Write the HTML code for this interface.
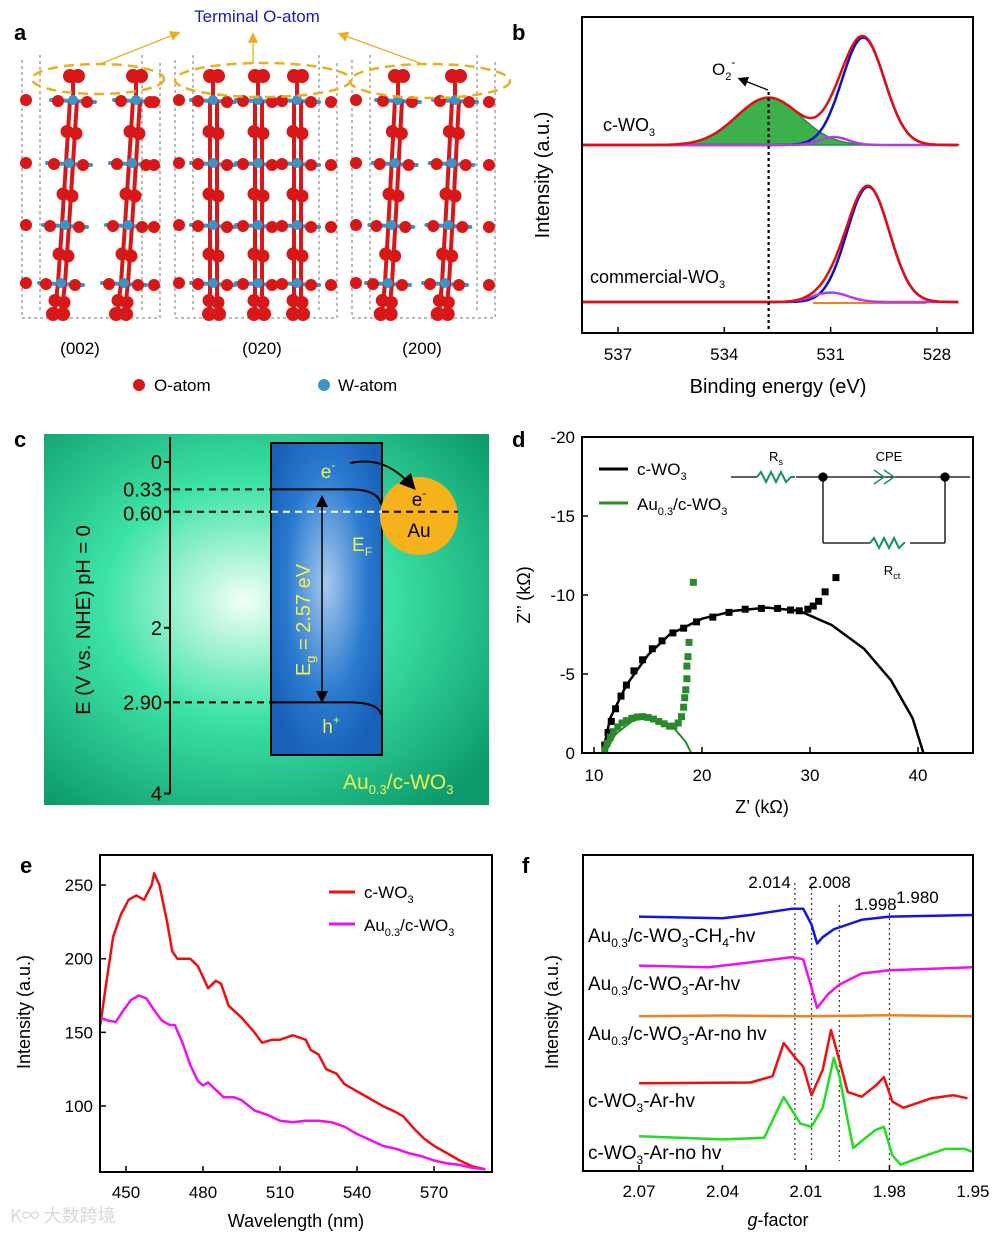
<!DOCTYPE html>
<html><head><meta charset="utf-8"><style>
body{margin:0;background:#fff}
svg{display:block;font-family:"Liberation Sans",Arial,sans-serif}
</style></head><body>
<svg id="fig" width="1000" height="1233" viewBox="0 0 1000 1233" xmlns="http://www.w3.org/2000/svg">
<defs>
<radialGradient id="bgc" cx="0.45" cy="0.45" r="0.7"><stop offset="0" stop-color="#f2fff8"/><stop offset="0.45" stop-color="#3de3a6"/><stop offset="1" stop-color="#0d9a6c"/></radialGradient>
<radialGradient id="boxc" cx="0.5" cy="0.45" r="0.6"><stop offset="0" stop-color="#a8c8ec"/><stop offset="0.6" stop-color="#2a7bd0"/><stop offset="1" stop-color="#1860b8"/></radialGradient>
<marker id="arr" markerWidth="8" markerHeight="8" refX="6" refY="4" orient="auto"><path d="M0,0 L8,4 L0,8 z" fill="#000"/></marker>
<marker id="arrs" markerWidth="8" markerHeight="8" refX="2" refY="4" orient="auto-start-reverse"><path d="M0,0 L8,4 L0,8 z" fill="#000"/></marker>
<marker id="arry" markerWidth="8" markerHeight="8" refX="6" refY="4" orient="auto"><path d="M0,0 L8,4 L0,8 z" fill="#e8b020"/></marker>
</defs>

<!-- Panel a -->
<g>
<text x="14" y="40" font-size="22" font-weight="bold">a</text>
<text x="257" y="22" font-size="17" fill="#1a1ab8" text-anchor="middle">Terminal O-atom</text>
<g stroke="#e8b020" stroke-width="1.3" fill="none">
<line x1="100" y1="64" x2="178" y2="33" marker-end="url(#arry)"/>
<line x1="253" y1="64" x2="253" y2="35" marker-end="url(#arry)"/>
<line x1="425" y1="65" x2="340" y2="34" marker-end="url(#arry)"/>
</g>
<g id="structs"></g>
<g stroke="#e8b020" stroke-width="2.5" fill="none" stroke-dasharray="10,6">
<ellipse cx="98" cy="79" rx="66" ry="15"/><ellipse cx="263" cy="80" rx="88" ry="17"/><ellipse cx="430" cy="81" rx="80" ry="17"/>
</g>
<text x="80" y="354" font-size="17" text-anchor="middle">(002)</text>
<text x="262" y="354" font-size="17" text-anchor="middle">(020)</text>
<text x="422" y="354" font-size="17" text-anchor="middle">(200)</text>
<circle cx="139" cy="385" r="6" fill="#d81818"/>
<text x="154" y="391" font-size="17">O-atom</text>
<circle cx="324" cy="385" r="6" fill="#3a94c8"/>
<text x="338" y="391" font-size="17">W-atom</text>
</g>

<!-- Panel b -->
<g>
<text x="512" y="40" font-size="22" font-weight="bold">b</text>
<g id="pb"></g>
<rect x="582" y="17" width="391" height="316" fill="none" stroke="#000" stroke-width="2"/>
<text x="549" y="175" font-size="20" text-anchor="middle" transform="rotate(-90 549 175)">Intensity (a.u.)</text>
<text x="778" y="393" font-size="20" text-anchor="middle">Binding energy (eV)</text>
<text x="603" y="131" font-size="18">c-WO<tspan font-size="11" dy="5">3</tspan></text>
<text x="590" y="283" font-size="18">commercial-WO<tspan font-size="11" dy="5">3</tspan></text>
<text x="712" y="75" font-size="17">O<tspan font-size="11" dy="5">2</tspan><tspan font-size="12" dy="-14">-</tspan></text>
<line x1="768" y1="90" x2="740" y2="79" stroke="#000" stroke-width="1.3" marker-end="url(#arr)"/>
</g>

<!-- Panel c -->
<g>
<text x="14" y="447" font-size="22" font-weight="bold">c</text>
<rect x="44" y="434" width="445" height="371" fill="url(#bgc)"/>
<rect x="271" y="443" width="111" height="312" fill="url(#boxc)" stroke="#000" stroke-width="2"/>
<circle cx="419" cy="516" r="39" fill="#f5b21a"/>
<g id="pc"></g>
<text x="90" y="620" font-size="20" text-anchor="middle" transform="rotate(-90 90 620)">E (V vs. NHE) pH = 0</text>
<text x="328" y="478" font-size="19" fill="#f0f050" text-anchor="middle">e<tspan font-size="12" dy="-9">-</tspan></text>
<text x="419" y="506" font-size="19" fill="#000" text-anchor="middle">e<tspan font-size="12" dy="-9">-</tspan></text>
<text x="419" y="537" font-size="19" text-anchor="middle">Au</text>
<text x="352" y="551" font-size="19" fill="#f0f050">E<tspan font-size="12" dy="5">F</tspan></text>
<text x="310" y="620" font-size="20" fill="#f0f050" text-anchor="middle" transform="rotate(-90 310 620)">E<tspan font-size="13" dy="5">g</tspan><tspan dy="-5"> = 2.57 eV</tspan></text>
<text x="331" y="733" font-size="19" fill="#f0f050" text-anchor="middle">h<tspan font-size="12" dy="-9">+</tspan></text>
<text x="343" y="789" font-size="21" fill="#f0f050">Au<tspan font-size="13" dy="5">0.3</tspan><tspan dy="-5">/c-WO</tspan><tspan font-size="13" dy="5">3</tspan></text>
<path d="M350,463 C375,458 393,465 413,487" stroke="#000" stroke-width="2" fill="none" marker-end="url(#arr)"/>
<line x1="322" y1="504" x2="322" y2="700" stroke="#000" stroke-width="1.5" marker-start="url(#arrs)" marker-end="url(#arr)"/>
</g>

<!-- Panel d -->
<g>
<text x="512" y="447" font-size="22" font-weight="bold">d</text>
<g id="pd"></g>
<rect x="582" y="437" width="391" height="316" fill="none" stroke="#000" stroke-width="2"/>
<text x="530" y="595" font-size="18" text-anchor="middle" transform="rotate(-90 530 595)">Z’’ (kΩ)</text>
<text x="762" y="813" font-size="18" text-anchor="middle">Z’ (kΩ)</text>
<line x1="599" y1="469" x2="628" y2="469" stroke="#000" stroke-width="3"/>
<text x="637" y="475" font-size="17">c-WO<tspan font-size="11" dy="5">3</tspan></text>
<line x1="599" y1="503" x2="628" y2="503" stroke="#2a8a2a" stroke-width="3"/>
<text x="637" y="510" font-size="17">Au<tspan font-size="11" dy="5">0.3</tspan><tspan dy="-5">/c-WO</tspan><tspan font-size="11" dy="5">3</tspan></text>
<g stroke="#000" stroke-width="1.3" fill="none">
<line x1="731" y1="477" x2="757" y2="477"/><line x1="796" y1="477" x2="970" y2="477"/>
<path d="M757,477 l4,-5 l5,10 l5,-10 l5,10 l5,-10 l5,10 l5,-5 l4,0" stroke="#1a9060" stroke-width="2"/>
<line x1="823" y1="477" x2="823" y2="543"/><line x1="945" y1="477" x2="945" y2="543"/>
<line x1="823" y1="543" x2="870" y2="543"/><line x1="910" y1="543" x2="945" y2="543"/>
<path d="M870,543 l4,-5 l5,10 l5,-10 l5,10 l5,-10 l5,10 l5,-5 l1,0" stroke="#1a9060" stroke-width="2"/>
<path d="M874,470 l10,7 l-10,7 M884,470 l10,7 l-10,7" stroke="#1a9060" stroke-width="1.5"/>
<circle cx="823" cy="477" r="4" fill="#000"/><circle cx="945" cy="477" r="4" fill="#000"/>
</g>
<text x="776" y="461" font-size="13" text-anchor="middle">R<tspan font-size="9" dy="4">s</tspan></text>
<text x="889" y="461" font-size="13" text-anchor="middle">CPE</text>
<text x="892" y="575" font-size="13" text-anchor="middle">R<tspan font-size="9" dy="4">ct</tspan></text>
</g>

<!-- Panel e -->
<g>
<text x="20" y="873" font-size="22" font-weight="bold">e</text>
<g id="pe"></g>
<rect x="100" y="855" width="392" height="317" fill="none" stroke="#000" stroke-width="2"/>
<text x="30" y="1012" font-size="18" text-anchor="middle" transform="rotate(-90 30 1012)">Intensity (a.u.)</text>
<text x="296" y="1227" font-size="18" text-anchor="middle">Wavelength (nm)</text>
<line x1="329" y1="892" x2="355" y2="892" stroke="#ee1010" stroke-width="3"/>
<text x="364" y="898" font-size="17">c-WO<tspan font-size="11" dy="5">3</tspan></text>
<line x1="329" y1="924" x2="355" y2="924" stroke="#ee10ee" stroke-width="3"/>
<text x="364" y="931" font-size="17">Au<tspan font-size="11" dy="5">0.3</tspan><tspan dy="-5">/c-WO</tspan><tspan font-size="11" dy="5">3</tspan></text>
<text x="10" y="1222" font-size="18" fill="#d8d8d8" font-family="'Noto Sans CJK SC',sans-serif">K∞ 大数跨境</text>
</g>

<!-- Panel f -->
<g>
<text x="522" y="873" font-size="22" font-weight="bold">f</text>
<g id="pf"></g>
<rect x="583" y="855" width="390" height="316" fill="none" stroke="#000" stroke-width="2"/>
<text x="558" y="1012" font-size="18" text-anchor="middle" transform="rotate(-90 558 1012)">Intensity (a.u.)</text>
<text x="778" y="1226" font-size="18" text-anchor="middle"><tspan font-style="italic">g</tspan>-factor</text>
<text x="588" y="942" font-size="19">Au<tspan font-size="12" dy="5">0.3</tspan><tspan dy="-5">/c-WO</tspan><tspan font-size="12" dy="5">3</tspan><tspan dy="-5">-CH</tspan><tspan font-size="12" dy="5">4</tspan><tspan dy="-5">-hv</tspan></text>
<text x="588" y="990" font-size="19">Au<tspan font-size="12" dy="5">0.3</tspan><tspan dy="-5">/c-WO</tspan><tspan font-size="12" dy="5">3</tspan><tspan dy="-5">-Ar-hv</tspan></text>
<text x="588" y="1040" font-size="19">Au<tspan font-size="12" dy="5">0.3</tspan><tspan dy="-5">/c-WO</tspan><tspan font-size="12" dy="5">3</tspan><tspan dy="-5">-Ar-no hv</tspan></text>
<text x="588" y="1107" font-size="19">c-WO<tspan font-size="12" dy="5">3</tspan><tspan dy="-5">-Ar-hv</tspan></text>
<text x="588" y="1159" font-size="19">c-WO<tspan font-size="12" dy="5">3</tspan><tspan dy="-5">-Ar-no hv</tspan></text>
</g>
</svg>
<script>
// ---------- Panel b data (XPS O1s peak parameters: center eV, amplitude, sigma) ----------
const bTicks=[537,534,531,528];
const bCWO3Base=59.5;
const bCWO3Centers=[530.08,532.75,530.9];
const bCWO3Amps=[34,15,2.5];
const bCWO3Sigmas=[0.6,0.9,0.4];
const bComBase=9.8;
const bComCenters=[529.94,531.0];
const bComAmps=[36.5,3];
const bComSigmas=[0.6,0.5];
const bO2Line=532.75;
// ---------- Panel c data ----------
const cTicks=[0,0.33,0.60,2,2.90,4];
const cCB=0.33, cEF=0.60, cVB=2.90;
// ---------- Panel d data ----------
const dXTicks=[10,20,30,40];
const dYTicks=[0,-5,-10,-15,-20];
const dBlackPtsX=[11,11.3,11.6,12,12.5,13,13.7,14.5,15.4,16.3,17.3,18.3,19.5,21,22.5,24,25.5,27,28.2,29,29.8,30.3,30.8,31.4,32.4];
const dBlackPtsY=[-0.5,-1.3,-2,-2.8,-3.6,-4.3,-5.2,-5.9,-6.6,-7.1,-7.6,-7.9,-8.3,-8.6,-8.9,-9.1,-9.15,-9.15,-9.05,-9.0,-9.1,-9.3,-9.6,-10.2,-11.1];
const dBlackFitX=[10.8,11.5,13,15,17,20,23,26,29,32,35,37.5,39.5,40.5];
const dBlackFitY=[0,-2.2,-4.3,-6.2,-7.5,-8.5,-9.0,-9.2,-9.0,-8.1,-6.6,-4.6,-2.2,0];
const dGreenPtsX=[11,11.2,11.5,11.8,12.2,12.6,13,13.5,14,14.5,15,15.5,16,16.5,17,17.4,17.8,18.1,18.3,18.4,18.5,18.6,18.6,18.7,18.8,19.2];
const dGreenPtsY=[-0.2,-0.6,-1.0,-1.35,-1.65,-1.9,-2.05,-2.2,-2.28,-2.3,-2.25,-2.15,-2.0,-1.85,-1.7,-1.7,-1.9,-2.3,-2.9,-3.5,-4.0,-4.7,-5.5,-6.1,-7.0,-10.8];
const dGreenFitX=[11,12,13.5,14.8,16,17.5,18.5,19];
const dGreenFitY=[0,-1.2,-2.0,-2.3,-2.1,-1.5,-0.7,0];
// ---------- Panel e data ----------
const eXTicks=[450,480,510,540,570];
const eYTicks=[100,150,200,250];
const eRedX=[440,442,445,448,451,454,457,460,461,463,466,468,470,475,478,482,485,487,490,495,500,503,507,510,515,520,522,525,528,532,535,540,545,550,555,558,562,566,570,575,580,585,590];
const eRedY=[155,180,215,230,240,243,240,250,258,250,225,205,200,200,195,180,185,183,168,160,150,143,145,145,148,145,138,135,125,122,115,110,105,100,96,93,85,78,73,68,63,59,57];
const eMagX=[440,443,446,449,452,455,458,461,464,467,469,472,475,478,480,482,485,488,492,495,500,505,510,515,520,525,530,535,540,545,550,555,560,565,570,575,580,585,590];
const eMagY=[160,158,157,165,172,175,173,165,158,155,155,143,128,117,114,116,111,106,106,104,97,94,90,89,90,90,89,86,81,77,73,71,68,66,63,61,60,58,57];
// ---------- Panel f data ----------
const fXTicks=[2.07,2.04,2.01,1.98,1.95];
const fMarks=[2.014,2.008,1.998,1.980];
const fBlueX=[2.07,2.04,2.03,2.015,2.011,2.008,2.006,2.004,2.0,1.995,1.99,1.98,1.95];
const fBlueY=[80.5,80,81,83,83,78,72,74,76.5,78,79.5,80.5,81];
const fMagX=[2.07,2.045,2.03,2.015,2.011,2.008,2.006,2.002,1.998,1.99,1.98,1.95];
const fMagY=[65,64.5,66,67.7,67,58,51.6,56,59,62.5,63.5,64.5];
const fOrgX=[2.07,2.04,2.01,1.98,1.95];
const fOrgY=[49,49.2,49,49.3,49];
const fRedX=[2.07,2.03,2.022,2.018,2.014,2.011,2.008,2.004,2.001,1.998,1.995,1.99,1.985,1.982,1.979,1.975,1.965,1.957,1.952];
const fRedY=[27.8,28,30,40.5,36,33,24,32,44.6,35,25,23.5,27,29.7,22,20,23,24,23];
const fGrnX=[2.07,2.04,2.025,2.018,2.012,2.008,2.004,2.0,1.998,1.995,1.993,1.985,1.982,1.979,1.976,1.97,1.96,1.953,1.95];
const fGrnY=[11,10,10.5,23.4,15,14,20,35.8,30,16,7.3,13,14,5,2,4,7,7,6];

const NS='http://www.w3.org/2000/svg';
function mk(parent,tag,attrs){const e=document.createElementNS(NS,tag);for(const k in attrs)e.setAttribute(k,attrs[k]);parent.appendChild(e);return e;}
function txt(parent,x,y,s,size,anchor){const t=mk(parent,'text',{x:x,y:y,'font-size':size,'text-anchor':anchor||'middle'});t.textContent=s;return t;}
function poly(parent,xs,ys,sx,sy,color,w){let d='';for(let i=0;i<xs.length;i++)d+=(i?'L':'M')+sx(xs[i]).toFixed(1)+','+sy(ys[i]).toFixed(1);return mk(parent,'path',{d:d,stroke:color,'stroke-width':w,fill:'none','stroke-linejoin':'round'});}

// ---------- Panel a structures ----------
(function(){
  const g=document.getElementById('structs');
  const structs=[{cols:[67,130],x0:22,x1:160,tilt:-6},{cols:[213,258,297],x0:175,x1:337,tilt:0},{cols:[393,450],x0:352,x1:495,tilt:-5}];
  const rows=[100,163,225,283];
  structs.forEach((s,si)=>{
    const sg=mk(g,'g',{});
    
    
    mk(sg,'path',{d:`M${s.x0},60 L${s.x0},318 L${s.x1},318 L${s.x1},60 M${s.x0+18},55 L${s.x0+18},310 M${s.x1-18},55 L${s.x1-18},310`,stroke:'#777','stroke-width':1,'stroke-dasharray':'3,3',fill:'none'});
    const bonds=mk(sg,'g',{stroke:'#3a94c8','stroke-width':4,'stroke-linecap':'round'});
    const red=mk(sg,'g',{stroke:'#d81818','stroke-width':4});
    const ats=mk(sg,'g',{});
    s.cols.forEach((cx,ci)=>{
      rows.forEach((ry,ri)=>{
        const x=cx+s.tilt*(ri-1.5)/1.5;
        mk(bonds,'line',{x1:x-22,y1:ry,x2:x+22,y2:ry+2});
        mk(ats,'circle',{cx:x-15,cy:ry+1,r:6,fill:'#d81818'});
        mk(ats,'circle',{cx:x+14,cy:ry+2,r:6,fill:'#d81818'});
        if(ci===0) mk(ats,'circle',{cx:s.x0+4,cy:ry,r:6,fill:'#d81818'});
        if(ci===s.cols.length-1) mk(ats,'circle',{cx:s.x1-6,cy:ry+2,r:6,fill:'#d81818'});
        const ny=ri<3?rows[ri+1]:318;
        const nx=cx+s.tilt*(ri+1-1.5)/1.5;
        mk(red,'line',{x1:x-3,y1:ry,x2:nx-3,y2:ny});
        mk(red,'line',{x1:x+4,y1:ry,x2:nx+4,y2:ny});
        mk(ats,'circle',{cx:(x+nx)/2-4,cy:(ry+ny)/2,r:6.5,fill:'#d81818'});
        mk(ats,'circle',{cx:(x+nx)/2+5,cy:(ry+ny)/2+2,r:6.5,fill:'#d81818'});
        if(ri===0){mk(red,'line',{x1:x,y1:ry,x2:x,y2:78});mk(ats,'circle',{cx:x-3,cy:76,r:7,fill:'#d81818'});mk(ats,'circle',{cx:x+5,cy:76,r:7,fill:'#d81818'});}
        if(ri===3){mk(ats,'circle',{cx:nx-4,cy:314,r:7,fill:'#d81818'});mk(ats,'circle',{cx:nx+6,cy:314,r:7,fill:'#d81818'});}
        mk(ats,'circle',{cx:x,cy:ry,r:5,fill:'#3a94c8'});
      });
    });
  });
})();

// ---------- Panel b ----------
(function(){
  const g=document.getElementById('pb');
  const sx=e=>618+(537-e)*35.44, sy=v=>333-v*3.16;
  bTicks.forEach(t=>{mk(g,'line',{x1:sx(t),y1:333,x2:sx(t),y2:327,stroke:'#000','stroke-width':1.5});const tl=txt(g,sx(t),360,String(t),17);});
  const gauss=(e,c,a,s)=>a*Math.exp(-0.5*((e-c)/s)**2);
  const grid=[];for(let e=538;e>=527.4;e-=0.05)grid.push(e);
  function comp(base,C,A,S,idx){return grid.map(e=>base+(idx<0?C.reduce((acc,c,i)=>acc+gauss(e,c,A[i],S[i]),0):gauss(e,C[idx],A[idx],S[idx])));}
  const gy=comp(bCWO3Base,bCWO3Centers,bCWO3Amps,bCWO3Sigmas,1);
  let d='M'+sx(grid[0])+','+sy(bCWO3Base);grid.forEach((e,i)=>d+='L'+sx(e).toFixed(1)+','+sy(gy[i]).toFixed(1));d+='L'+sx(grid[grid.length-1])+','+sy(bCWO3Base)+'Z';
  const ga=mk(g,'path',{d:d,fill:'#3cb04a',stroke:'#2a8a50','stroke-width':1.5});
  
  const series=[
    ['c-wo3-lattice-o-fit',comp(bCWO3Base,bCWO3Centers,bCWO3Amps,bCWO3Sigmas,0),'#1010c0'],
    ['c-wo3-oh-fit',comp(bCWO3Base,bCWO3Centers,bCWO3Amps,bCWO3Sigmas,2),'#b040e0'],
    ['c-wo3-envelope',comp(bCWO3Base,bCWO3Centers,bCWO3Amps,bCWO3Sigmas,-1),'#e01010'],
    ['commercial-wo3-lattice-o-fit',comp(bComBase,bComCenters,bComAmps,bComSigmas,0),'#1010c0'],
    ['commercial-wo3-oh-fit',comp(bComBase,bComCenters,bComAmps,bComSigmas,1),'#b040e0'],
    ['commercial-wo3-envelope',comp(bComBase,bComCenters,bComAmps,bComSigmas,-1),'#e01010']];
  mk(g,'line',{x1:sx(531.5),y1:sy(bComBase)+1,x2:sx(528.3),y2:sy(bComBase)+1,stroke:'#f08020','stroke-width':2});
  series.forEach(s=>{const p=poly(g,grid,s[1],sx,sy,s[2],2.5);});
  const dl=mk(g,'line',{x1:sx(bO2Line),y1:92,x2:sx(bO2Line),y2:333,stroke:'#000','stroke-width':2.2,'stroke-dasharray':'3,3'});
  
})();

// ---------- Panel c ----------
(function(){
  const g=document.getElementById('pc');
  const sy=v=>462+v*82.9;
  mk(g,'line',{x1:170,y1:437,x2:170,y2:sy(4),stroke:'#000','stroke-width':2});
  cTicks.forEach(t=>{mk(g,'line',{x1:164,y1:sy(t),x2:170,y2:sy(t),stroke:'#000','stroke-width':2});const tl=txt(g,162,sy(t)+7+(t==0.6?2:0),t===0||t===2||t===4?String(t):t.toFixed(2),20,'end');});
  const cb=mk(g,'line',{x1:173,y1:sy(cCB),x2:271,y2:sy(cCB),stroke:'#000','stroke-width':2,'stroke-dasharray':'7,5'});
  mk(g,'path',{d:`M271,${sy(cCB)} L350,${sy(cCB)} Q378,${sy(cCB)} 381,${sy(cCB)+15}`,stroke:'#000','stroke-width':2,fill:'none'});
  const vb=mk(g,'line',{x1:173,y1:sy(cVB),x2:271,y2:sy(cVB),stroke:'#000','stroke-width':2,'stroke-dasharray':'7,5'});
  mk(g,'path',{d:`M271,${sy(cVB)} L350,${sy(cVB)} Q378,${sy(cVB)} 381,${sy(cVB)+12}`,stroke:'#000','stroke-width':2,fill:'none'});
  const ef=mk(g,'line',{x1:173,y1:sy(cEF),x2:271,y2:sy(cEF),stroke:'#000','stroke-width':2,'stroke-dasharray':'7,5'});
  mk(g,'line',{x1:271,y1:sy(cEF),x2:382,y2:sy(cEF),stroke:'#fff','stroke-width':2,'stroke-dasharray':'7,5'});
  mk(g,'line',{x1:382,y1:sy(cEF),x2:458,y2:sy(cEF),stroke:'#000','stroke-width':2,'stroke-dasharray':'7,5'});
})();

// ---------- Panel d ----------
(function(){
  const g=document.getElementById('pd');
  const sx=x=>594+(x-10)*10.8, sy=y=>753+y*15.8;
  dXTicks.forEach(t=>{mk(g,'line',{x1:sx(t),y1:753,x2:sx(t),y2:747,stroke:'#000','stroke-width':1.5});const tl=txt(g,sx(t),781,String(t),17);});
  dYTicks.forEach(t=>{mk(g,'line',{x1:582,y1:sy(t),x2:588,y2:sy(t),stroke:'#000','stroke-width':1.5});const tl=txt(g,575,sy(t)+6,String(t),17,'end');});
  const c1=poly(g,dBlackFitX,dBlackFitY,sx,sy,'#000',2.5);
  const c2=poly(g,dGreenFitX,dGreenFitY,sx,sy,'#2a8a2a',2);
  dBlackPtsX.forEach((x,i)=>{const r=mk(g,'rect',{x:sx(x)-3.5,y:sy(dBlackPtsY[i])-3.5,width:7,height:7,fill:'#000'});});
  dGreenPtsX.forEach((x,i)=>{const r=mk(g,'rect',{x:sx(x)-3.5,y:sy(dGreenPtsY[i])-3.5,width:7,height:7,fill:'#2a8a2a'});});
})();

// ---------- Panel e ----------
(function(){
  const g=document.getElementById('pe');
  const sx=x=>126+(x-450)*2.567, sy=y=>1106-(y-100)*1.473;
  eXTicks.forEach(t=>{mk(g,'line',{x1:sx(t),y1:1172,x2:sx(t),y2:1166,stroke:'#000','stroke-width':1.5});const tl=txt(g,sx(t),1198,String(t),17);});
  eYTicks.forEach(t=>{mk(g,'line',{x1:100,y1:sy(t),x2:106,y2:sy(t),stroke:'#000','stroke-width':1.5});const tl=txt(g,93,sy(t)+6,String(t),17,'end');});
  const r=poly(g,eRedX,eRedY,sx,sy,'#ee1010',2.5);
  const m=poly(g,eMagX,eMagY,sx,sy,'#ee10ee',2.5);
})();

// ---------- Panel f ----------
(function(){
  const g=document.getElementById('pf');
  const sx=x=>639+(2.07-x)*2783, sy=y=>1171-y*3.16;
  fXTicks.forEach(t=>{mk(g,'line',{x1:sx(t),y1:1171,x2:sx(t),y2:1165,stroke:'#000','stroke-width':1.5});const tl=txt(g,sx(t),1197,t.toFixed(2),17);});
  const ly=[888,888,910,903];const lx=[-4,18,36,28];
  fMarks.forEach((m,i)=>{const l=mk(g,'line',{x1:sx(m),y1:ly[i]-5,x2:sx(m),y2:1161,stroke:'#444','stroke-width':1.3,'stroke-dasharray':'2,3'});
    const t=txt(g,sx(m)+lx[i],ly[i],m.toFixed(3),17,i===0?'end':'middle');});
  [['au-ch4-hv-line',fBlueX,fBlueY,'#1515e0'],['au-ar-hv-line',fMagX,fMagY,'#ee10ee'],['au-ar-no-hv-line',fOrgX,fOrgY,'#f08020'],['c-wo3-ar-hv-line',fRedX,fRedY,'#ee1010'],['c-wo3-ar-no-hv-line',fGrnX,fGrnY,'#22dd22']].forEach(s=>{const p=poly(g,s[1],s[2],sx,sy,s[3],2.5);});
})();
</script>
</body></html>
